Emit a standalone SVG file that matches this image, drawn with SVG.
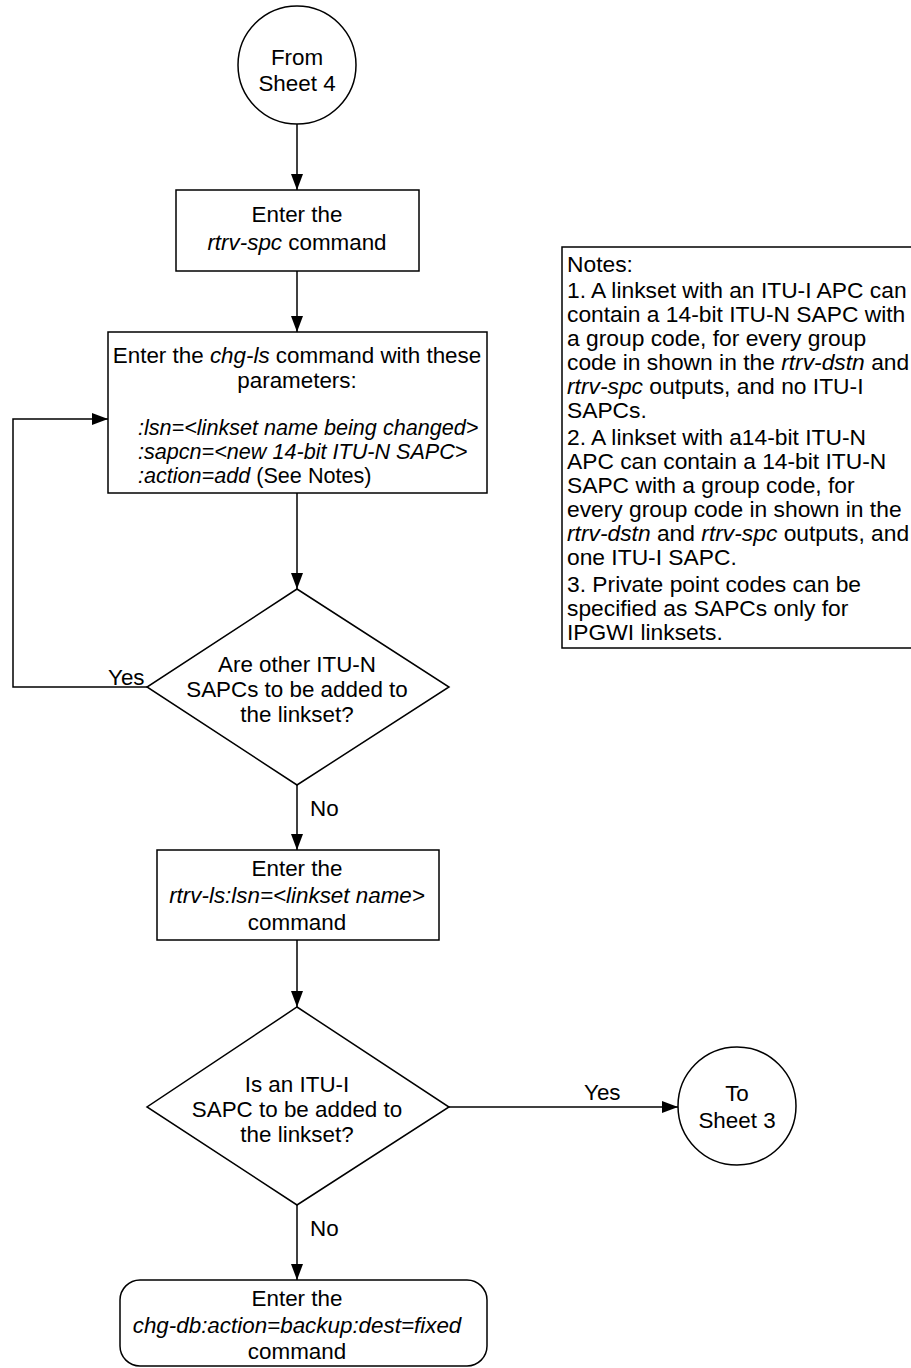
<svg xmlns="http://www.w3.org/2000/svg" width="911" height="1368" viewBox="0 0 911 1368">
<style>
.s{fill:#fff;stroke:#000;stroke-width:1.5}
.c{fill:none;stroke:#000;stroke-width:1.5}
text{font-family:"Liberation Sans",Arial,sans-serif;font-size:22.4px;fill:#000}
.m{text-anchor:middle}
.i{font-style:italic}
.p{font-size:21.6px}
.n{font-size:22.8px}
</style>
<defs>
<marker id="ah" markerWidth="16" markerHeight="12" refX="16" refY="6" orient="auto" markerUnits="userSpaceOnUse">
<path d="M0,0 L16,6 L0,12 Z" fill="#000"/>
</marker>
</defs>
<rect width="911" height="1368" fill="#fff"/>
<g id="from-sheet4">
<circle class="s" cx="297" cy="65" r="59"/>
<text class="m" x="297" y="65">From</text>
<text class="m" x="297" y="91">Sheet 4</text>
</g>
<g id="rtrv-spc">
<rect class="s" x="176" y="190" width="243" height="81"/>
<text class="m" x="297" y="222">Enter the</text>
<text class="m" x="297" y="250"><tspan class="i">rtrv-spc</tspan> command</text>
</g>
<g id="chg-ls">
<rect class="s" x="108" y="332" width="379" height="161"/>
<text class="m" x="297" y="363">Enter the <tspan class="i">chg-ls</tspan> command with these</text>
<text class="m" x="297" y="388">parameters:</text>
<text class="i p" x="138" y="435">:lsn=&lt;linkset name being changed&gt;</text>
<text class="i p" x="138" y="459">:sapcn=&lt;new 14-bit ITU-N SAPC&gt;</text>
<text class="p" x="138" y="483"><tspan class="i">:action=add</tspan> (See Notes)</text>
</g>
<g id="notes">
<rect class="s" x="562" y="247" width="360" height="401"/>
<text class="n" x="567" y="272">Notes:</text>
<text class="n" x="567" y="298">1. A linkset with an ITU-I APC can</text>
<text class="n" x="567" y="322">contain a 14-bit ITU-N SAPC with</text>
<text class="n" x="567" y="346">a group code, for every group</text>
<text class="n" x="567" y="370">code in shown in the <tspan class="i">rtrv-dstn</tspan> and</text>
<text class="n" x="567" y="394"><tspan class="i">rtrv-spc</tspan> outputs, and no ITU-I</text>
<text class="n" x="567" y="418">SAPCs.</text>
<text class="n" x="567" y="445">2. A linkset with a14-bit ITU-N</text>
<text class="n" x="567" y="469">APC can contain a 14-bit ITU-N</text>
<text class="n" x="567" y="493">SAPC with a group code, for</text>
<text class="n" x="567" y="517">every group code in shown in the</text>
<text class="n" x="567" y="541"><tspan class="i">rtrv-dstn</tspan> and <tspan class="i">rtrv-spc</tspan> outputs, and</text>
<text class="n" x="567" y="565">one ITU-I SAPC.</text>
<text class="n" x="567" y="592">3. Private point codes can be</text>
<text class="n" x="567" y="616">specified as SAPCs only for</text>
<text class="n" x="567" y="640">IPGWI linksets.</text>
</g>
<g id="decision1">
<polygon class="s" points="297,589 449,687 297,785 147,687"/>
<text class="m" x="297" y="672">Are other ITU-N</text>
<text class="m" x="297" y="697">SAPCs to be added to</text>
<text class="m" x="297" y="722">the linkset?</text>
</g>
<g id="rtrv-ls">
<rect class="s" x="157" y="850" width="282" height="90"/>
<text class="m" x="297" y="876">Enter the</text>
<text class="m i" x="297" y="903">rtrv-ls:lsn=&lt;linkset name&gt;</text>
<text class="m" x="297" y="930">command</text>
</g>
<g id="decision2">
<polygon class="s" points="297,1007 449,1107 297,1205 147,1107"/>
<text class="m" x="297" y="1092">Is an ITU-I</text>
<text class="m" x="297" y="1117">SAPC to be added to</text>
<text class="m" x="297" y="1142">the linkset?</text>
</g>
<g id="to-sheet3">
<circle class="s" cx="737" cy="1106" r="59"/>
<text class="m" x="737" y="1101">To</text>
<text class="m" x="737" y="1128">Sheet 3</text>
</g>
<g id="chg-db">
<rect class="s" x="120" y="1280" width="367" height="86" rx="20" ry="20"/>
<text class="m" x="297" y="1306">Enter the</text>
<text class="m i" x="297" y="1333">chg-db:action=backup:dest=fixed</text>
<text class="m" x="297" y="1359">command</text>
</g>
<g id="connectors">
<line class="c" x1="297" y1="124" x2="297" y2="190" marker-end="url(#ah)"/>
<line class="c" x1="297" y1="271" x2="297" y2="332" marker-end="url(#ah)"/>
<line class="c" x1="297" y1="493" x2="297" y2="589" marker-end="url(#ah)"/>
<polyline class="c" points="147,687 13,687 13,419 108,419" marker-end="url(#ah)"/>
<text x="108" y="685">Yes</text>
<line class="c" x1="297" y1="785" x2="297" y2="850" marker-end="url(#ah)"/>
<text x="310" y="816">No</text>
<line class="c" x1="297" y1="940" x2="297" y2="1007" marker-end="url(#ah)"/>
<line class="c" x1="449" y1="1107" x2="678" y2="1107" marker-end="url(#ah)"/>
<text x="584" y="1100">Yes</text>
<line class="c" x1="297" y1="1205" x2="297" y2="1280" marker-end="url(#ah)"/>
<text x="310" y="1236">No</text>
</g>
</svg>
